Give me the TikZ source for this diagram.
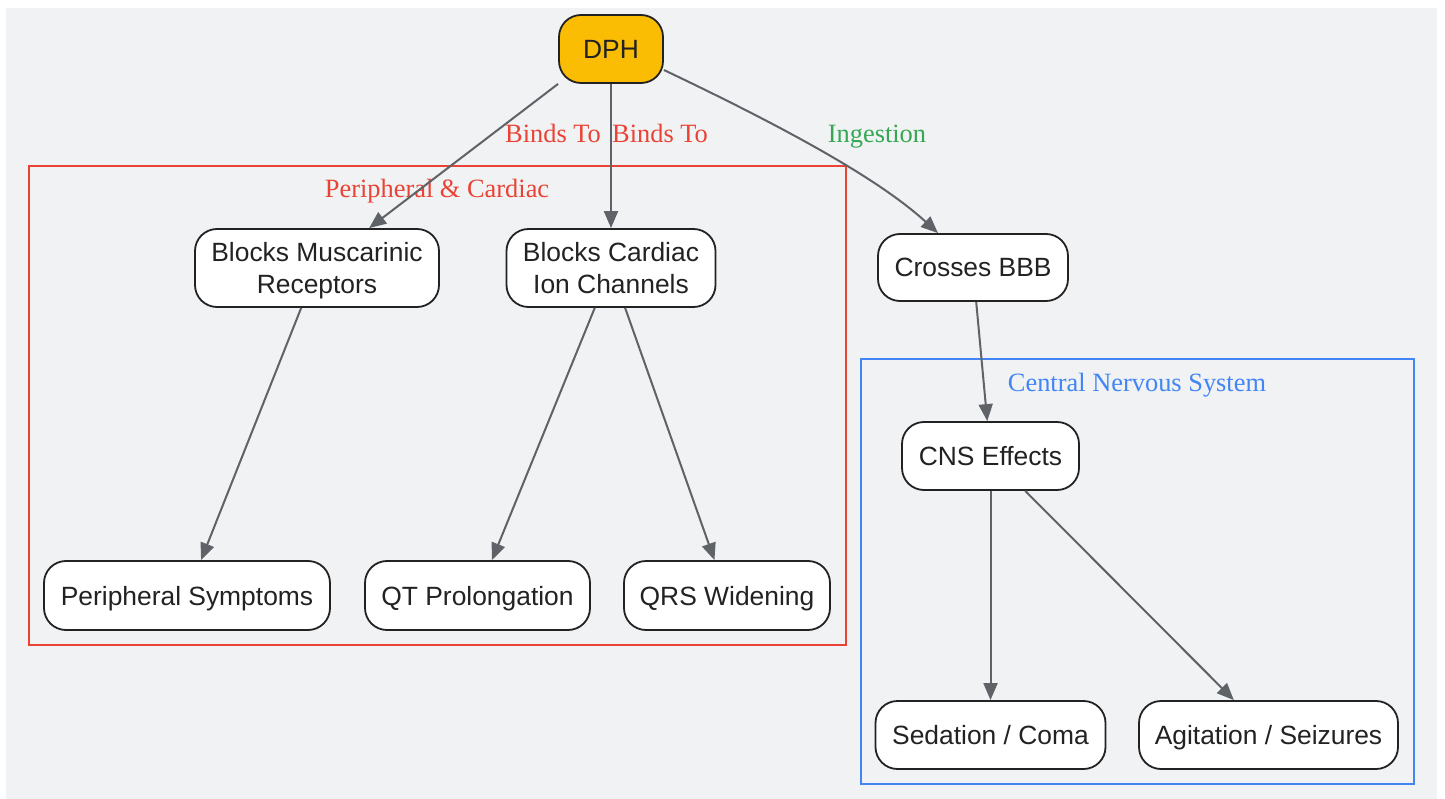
\documentclass[tikz,border=0pt]{standalone}
\usepackage{fontspec}
\setmainfont{Liberation Serif}
\newfontfamily\nodefont{Liberation Sans}
\usetikzlibrary{arrows.meta,calc}
\definecolor{bgc}{HTML}{F1F2F4}
\definecolor{edgec}{HTML}{5F6368}
\definecolor{inkc}{HTML}{222222}
\definecolor{redc}{HTML}{EA4335}
\definecolor{bluec}{HTML}{4285F4}
\definecolor{greenc}{HTML}{34A853}
\definecolor{yellowc}{HTML}{FBBC04}
\newcommand{\nodepth}[1]{\raisebox{0pt}[\height][0pt]{#1}}
\begin{document}
\begin{tikzpicture}[x=1pt,y=-1pt,
  box/.style={draw=inkc,line width=1.8pt,fill=white,rounded corners=22pt,
    inner sep=0pt,align=center,text=inkc,
    font=\nodefont\fontsize{26.4}{32}\selectfont},
  oneline/.style={text height=19pt,text depth=0pt},
  conn/.style={draw=edgec,line width=2pt,-{Triangle[length=17pt,width=14pt]}},
  elabel/.style={anchor=base,inner sep=0pt,font=\fontsize{26.4}{30}\selectfont},
  cluster/.style={line width=2pt}]
\useasboundingbox (0,0) rectangle (1445,799);
\fill[bgc] (6,8) rectangle (1437,799);
% clusters
\draw[cluster,draw=redc] (29,166) rectangle (846,645);
\draw[cluster,draw=bluec] (861,359) rectangle (1414,784);
\node[elabel,text=redc] (lblpc) at (437,198) {Peripheral \& Cardiac};
\node[elabel,text=bluec] (lblcns) at (1137,391) {Central Nervous System};
% nodes
\node[box,oneline,fill=yellowc,minimum width=104pt,minimum height=68pt] (dph) at (611,49) {DPH};
\node[box,minimum width=244pt,minimum height=78pt] (musc) at (317,268) {Blocks Muscarinic\\\nodepth{Receptors}};
\node[box,minimum width=209pt,minimum height=78pt] (card) at (611,268) {Blocks Cardiac\\Ion Channels};
\node[box,oneline,minimum width=190pt,minimum height=67pt] (bbb) at (973,267.5) {Crosses BBB};
\node[box,oneline,minimum width=286pt,minimum height=69pt] (periph) at (187,595.5) {Peripheral Symptoms};
\node[box,oneline,minimum width=225pt,minimum height=69pt] (qt) at (477.5,595.5) {QT Prolongation};
\node[box,oneline,minimum width=206pt,minimum height=69pt] (qrs) at (727,595.5) {QRS Widening};
\node[box,oneline,minimum width=177pt,minimum height=68pt] (cns) at (990.5,456) {CNS Effects};
\node[box,oneline,minimum width=230pt,minimum height=68pt] (sed) at (990.5,735) {Sedation / Coma};
\node[box,oneline,minimum width=259pt,minimum height=68pt] (agit) at (1268.5,735) {Agitation / Seizures};
% edges
\draw[conn] (dph.south west) -- (musc);
\draw[conn] (dph) -- (card);
\coordinate (ingA) at ($(dph.east)+(0,21)$);
\coordinate (ingB) at ($(bbb.north)+(-35,0)$);
\draw[conn] (ingA) .. controls (790,130) and (880,180) .. (ingB);
\draw[conn] (musc) -- (periph);
\draw[conn] (card) -- (qt);
\draw[conn] (card) -- (qrs);
\draw[conn] (bbb) -- (cns);
\draw[conn] (cns) -- (sed);
\draw[conn] (cns) -- (agit);
% edge labels
\node[elabel,text=redc] (lbl1) at (553,143) {Binds To};
\node[elabel,text=redc] (lbl2) at (660,143) {Binds To};
\node[elabel,text=greenc] (lbl3) at (877,143) {Ingestion};
\end{tikzpicture}
\end{document}
